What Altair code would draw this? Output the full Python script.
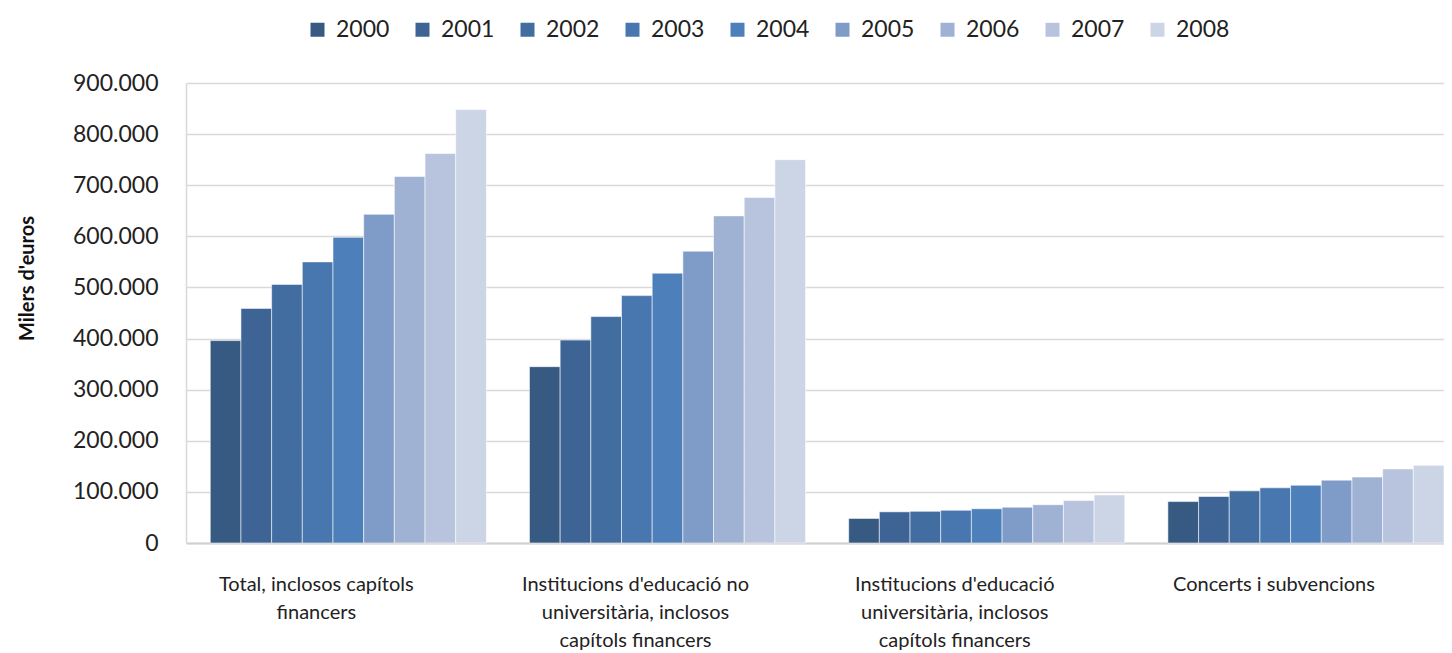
import altair as alt
import pandas as pd

years = ["2000", "2001", "2002", "2003", "2004", "2005", "2006", "2007", "2008"]
categories = [
    "Total, inclosos capítols financers",
    "Institucions d'educació no universitària, inclosos capítols financers",
    "Institucions d'educació universitària, inclosos capítols financers",
    "Concerts i subvencions",
]
label_lines = [
    ["Total, inclosos capítols", "financers"],
    ["Institucions d'educació no", "universitària, inclosos", "capítols financers"],
    ["Institucions d'educació", "universitària, inclosos", "capítols financers"],
    ["Concerts i subvencions"],
]
total = [396000, 459000, 506000, 550000, 598000, 643000, 717000, 762000, 848000]
no_univ = [345000, 397000, 443000, 484000, 528000, 571000, 640000, 676000, 750000]
univ = [48000, 61000, 62000, 64000, 67000, 70000, 75000, 83000, 94000]
concerts = [81000, 91000, 102000, 108000, 113000, 123000, 129000, 145000, 152000]
colors = ["#375A82", "#3E6496", "#426DA0", "#4876AE", "#4D7FBA",
          "#7F9CC8", "#A0B2D3", "#B8C4DE", "#CCD5E6"]
y_ticks = [0, 100000, 200000, 300000, 400000, 500000, 600000, 700000, 800000, 900000]

series = [total, no_univ, univ, concerts]
rows = []
for cat, vals in zip(categories, series):
    for yr, v in zip(years, vals):
        rows.append({"categoria": cat, "any": yr, "valor": v})
df = pd.DataFrame(rows)

# label expression mapping category -> list of lines
expr = "''"
for cat, lines in reversed(list(zip(categories, label_lines))):
    arr = "[" + ",".join("'" + l.replace("'", "\\'") + "'" for l in lines) + "]"
    c = cat.replace("'", "\\'")
    expr = f"datum.value == '{c}' ? {arr} : ({expr})"

FONT = "Lato"

chart = alt.Chart(df).mark_bar(
    stroke="#ffffff", strokeWidth=1, strokeOpacity=0.55
).encode(
    x=alt.X("categoria:N", sort=categories, title=None,
            scale=alt.Scale(paddingInner=0.135, paddingOuter=0.038, align=1),
            axis=alt.Axis(labelExpr=expr, labelAngle=0, labelAlign="center",
                          labelBaseline="top", labelPadding=31, labelOffset=-32,
                          labelFontSize=20, labelLineHeight=28, labelColor="#222222",
                          labelFont=FONT, labelLimit=0, ticks=False, domain=True,
                          domainColor="#d0d0d0", domainWidth=2, grid=False)),
    xOffset=alt.XOffset("any:N", sort=years,
                        scale=alt.Scale(paddingInner=0, paddingOuter=0)),
    y=alt.Y("valor:Q", title="Milers d'euros",
            scale=alt.Scale(domain=[0, 900000], nice=False),
            axis=alt.Axis(values=y_ticks,
                          labelExpr="replace(format(datum.value, ','), regexp(',', 'g'), '.')",
                          labelFontSize=23, labelColor="#222222", labelFont=FONT,
                          labelPadding=28, ticks=False, domain=True,
                          domainColor="#d9d9d9", domainWidth=1.5,
                          gridColor="#d9d9d9", gridWidth=1.5,
                          titleFont=FONT, titleFontSize=20, titleFontWeight="bold",
                          titleColor="#111111", titlePadding=35, titleY=195)),
    color=alt.Color("any:N", sort=years,
                    scale=alt.Scale(domain=years, range=colors),
                    legend=alt.Legend(title=None, orient="none", direction="horizontal",
                                      legendX=120, legendY=-65,
                                      symbolType="square", symbolSize=196,
                                      symbolStrokeWidth=0, labelFontSize=23,
                                      labelFont=FONT, labelColor="#222222",
                                      labelOffset=7, columnPadding=21)),
).properties(
    width=1258, height=460,
    autosize=alt.AutoSizeParams(type="none"),
    padding={"left": 178, "top": 75, "right": 0, "bottom": 108},
).configure_view(stroke=None)

chart.save("out.html", embed_options={"renderer": "svg", "actions": False})
